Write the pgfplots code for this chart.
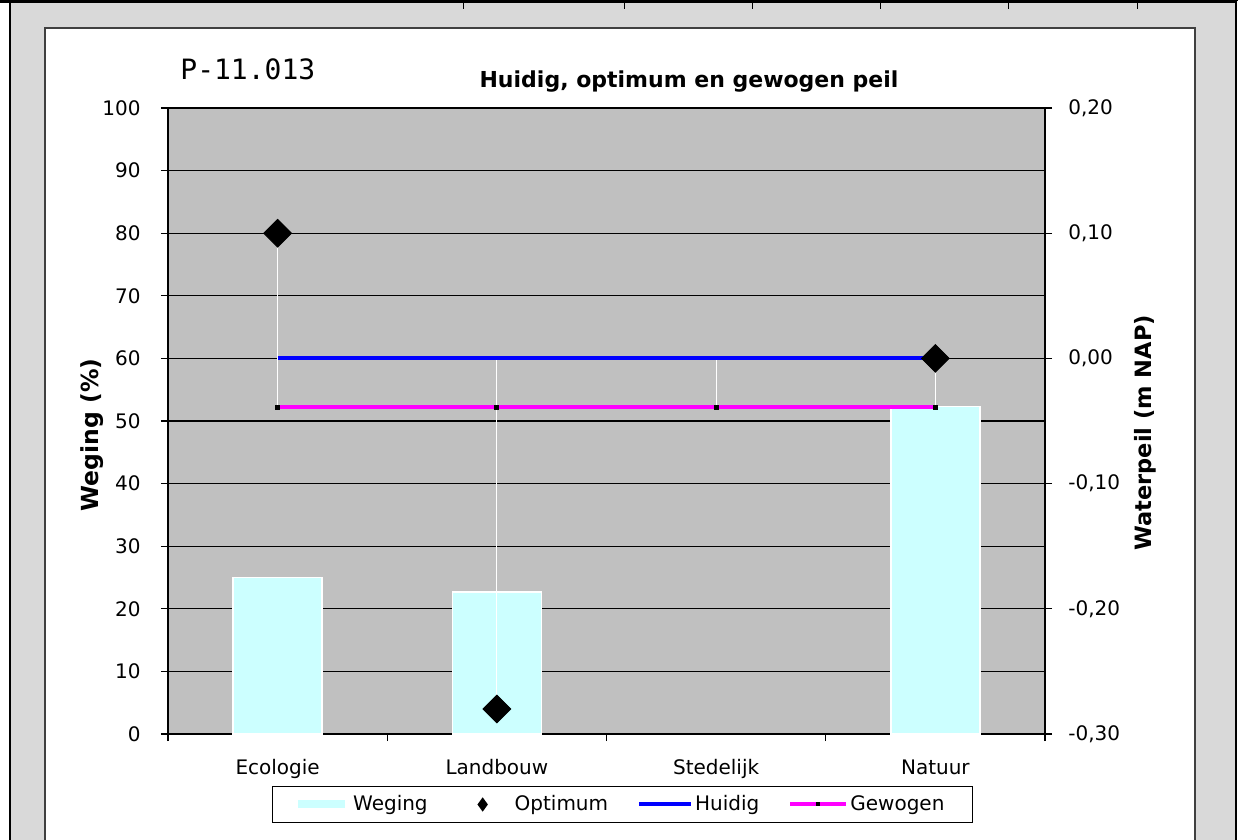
\documentclass[border=0pt]{standalone}
\usepackage{fontspec}
\setmainfont{DejaVu Sans}
\newfontfamily\monofont{DejaVu Sans Mono}
\usepackage{pgfplots}
\pgfplotsset{compat=1.18}
\definecolor{sheetgray}{HTML}{D9D9D9}
\definecolor{plotgray}{HTML}{C0C0C0}
\definecolor{barcyan}{HTML}{CCFFFF}
\definecolor{framegray}{HTML}{808080}
\definecolor{huidigblue}{HTML}{0000FF}
\definecolor{gewogenmag}{HTML}{FF00FF}

\pgfplotstableread{
x weging
0 25.0
1 22.7
3 52.3
}\wegingtable

\pgfplotstableread{
x optimum
0 0.10
1 -0.28
3 0.00
}\optimumtable

\pgfplotstableread{
x huidig gewogen
0 0.00 -0.039
1 0.00 -0.039
2 0.00 -0.039
3 0.00 -0.039
}\peiltable

\begin{document}
\begin{tikzpicture}
\begin{scope}[x=0.5pt,y=-0.5pt]
\useasboundingbox (0,0) rectangle (1238,840);
\fill[white] (0,0) rectangle (1238,840);
\fill[sheetgray] (10,2) rectangle (1236,840);
\draw[black, line width=0.7pt] (10,840) -- (10,2) -- (1236,2) -- (1236,840);
\draw[black, line width=2pt] (0,1.5) -- (460,1.5);
\draw[black, line width=0.5pt] (460,0.5) -- (1238,0.5);
\foreach \xx in {463,624,752,880,1008,1137} \draw[black,line width=0.5pt] (\xx,0) -- (\xx,9);
\filldraw[fill=white, draw=black!75, line width=0.6pt] (45,842) -- (45,28) -- (1195,28) -- (1195,842);
\end{scope}

% left axis: weging bars
\begin{axis}[
  at={(84pt,-367pt)}, anchor=south west,
  scale only axis, width=438.5pt, height=313pt,
  xmin=-0.5, xmax=3.5, ymin=0, ymax=100,
  axis x line*=bottom, axis y line*=left,
  axis background/.style={fill=plotgray, draw=framegray, line width=0.8pt},
  axis line style={black, line width=0.8pt},
  xtick={0,1,2,3},
  xticklabels={Ecologie,Landbouw,Stedelijk,Natuur},
  major x tick style={draw=none},
  minor xtick={-0.5,0.5,1.5,2.5,3.5},
  minor x tick style={black, line width=0.6pt},
  minor tick length=3.5pt,
  ytick={0,10,20,30,40,50,60,70,80,90,100},
  yticklabels={0,10,20,30,40,50,60,70,80,90,100},
  ymajorgrids, grid style={black, line width=0.6pt},
  tick align=outside, major tick length=3.5pt,
  tick style={black, line width=0.6pt},
  ticklabel style={font=\fontsize{10}{12}\selectfont, text=black},
  yticklabel style={anchor=east, inner sep=0pt, xshift=-10pt},
  xticklabel style={anchor=base, inner sep=0pt, yshift=-16.5pt},
  ylabel={Weging (\%)},
  ylabel style={font=\bfseries\fontsize{11.75}{13}\selectfont, at={(axis description cs:-0.0867,0.478)}, anchor=center},
]
\addplot[ybar, bar width=44.5pt, fill=barcyan, draw=white, line width=0.8pt] table[x=x, y=weging] {\wegingtable};
\end{axis}

% right axis: water levels
\begin{axis}[
  at={(84pt,-367pt)}, anchor=south west,
  scale only axis, width=438.5pt, height=313pt,
  xmin=-0.5, xmax=3.5, ymin=-0.3, ymax=0.2,
  axis x line=none, axis y line*=right,
  axis line style={black, line width=0.8pt},
  ytick={-0.3,-0.2,-0.1,0,0.1,0.2},
  yticklabels={{-0,30},{-0,20},{-0,10},{0,00},{0,10},{0,20}},
  tick align=outside, major tick length=3.5pt,
  tick style={black, line width=0.6pt},
  ticklabel style={font=\fontsize{10}{12}\selectfont, text=black},
  yticklabel style={anchor=west, inner sep=0pt, xshift=8pt},
  ylabel={Waterpeil (m NAP)},
  ylabel style={font=\bfseries\fontsize{11.25}{13}\selectfont, at={(axis description cs:1.114,0.481)}, anchor=center, rotate=0},
  legend columns=4,
  legend style={at={(axis description cs:0.518,-0.1126)}, anchor=center,
    draw=black, line width=0.6pt, fill=white,
    inner xsep=13pt, inner ysep=3.5pt,
    font=\fontsize{10}{12}\selectfont,
    nodes={inner sep=1pt},
    /tikz/every even column/.append style={column sep=13.5pt}},
]
% high-low lines
\addplot[white, line width=0.6pt, forget plot] coordinates {(0,0.10) (0,-0.039)};
\addplot[white, line width=0.6pt, forget plot] coordinates {(1,0.00) (1,-0.28)};
\addplot[white, line width=0.6pt, forget plot] coordinates {(2,0.00) (2,-0.039)};
\addplot[white, line width=0.6pt, forget plot] coordinates {(3,0.00) (3,-0.039)};
% Huidig and Gewogen
\addplot[huidigblue, line width=2pt, forget plot] table[x=x, y=huidig] {\peiltable};
\addplot[gewogenmag, line width=2pt, mark=square*, mark size=1pt, mark options={black, fill=black, line width=0pt}, forget plot] table[x=x, y=gewogen] {\peiltable};
% Optimum
\addplot[only marks, mark=square*, mark size=4.9pt, mark options={rotate=45, fill=black, draw=black}, forget plot] table[x=x, y=optimum] {\optimumtable};

\addlegendimage{legend image code/.code={\fill[barcyan, draw=none] (0pt,-2pt) rectangle (23.5pt,2pt); \path[draw=none, fill=none] (0pt,0pt) -- (26.5pt,0pt);}}
\addlegendentry{Weging}
\addlegendimage{legend image code/.code={\fill[black, draw=none] (13pt,3.6pt) -- (15.6pt,0pt) -- (13pt,-3.6pt) -- (10.4pt,0pt) -- cycle; \path[draw=none, fill=none] (0pt,0pt) -- (28pt,0pt);}}
\addlegendentry{Optimum}
\addlegendimage{legend image code/.code={\draw[huidigblue, line width=2pt] (0pt,0pt) -- (26pt,0pt);}}
\addlegendentry{Huidig}
\addlegendimage{legend image code/.code={\draw[gewogenmag, line width=2pt] (0pt,0pt) -- (28pt,0pt); \fill[black, draw=none] (13pt,-1pt) rectangle (15pt,1pt);}}
\addlegendentry{Gewogen}
\end{axis}

\begin{scope}[x=0.5pt,y=-0.5pt]
\node[anchor=base, font=\bfseries\fontsize{11}{13}\selectfont, inner sep=0pt] at (689,88) {Huidig, optimum en gewogen peil};
\node[anchor=base west, font=\monofont\fontsize{14}{16}\selectfont, inner sep=0pt] at (180,80) {P-11.013};
\end{scope}
\end{tikzpicture}
\end{document}
